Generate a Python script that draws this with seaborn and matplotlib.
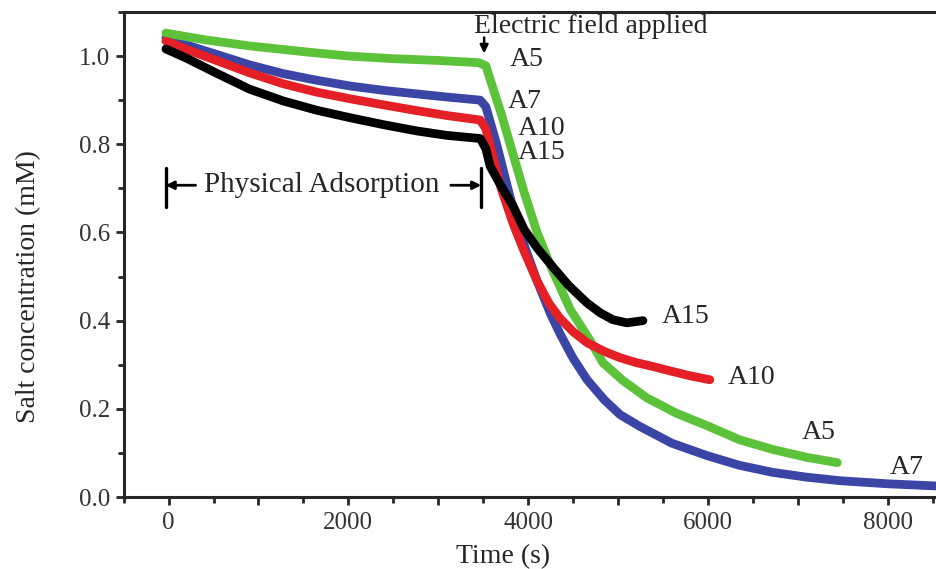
import seaborn as sns
import pandas as pd
import matplotlib.pyplot as plt
from matplotlib.ticker import MultipleLocator, FuncFormatter

# A5 (green)
t_a5 = [-30, 400, 900, 1500, 2000, 2500, 3000, 3450, 3530, 3620, 3700, 3800, 3950, 4100, 4280,
        4470, 4690, 4830, 5050, 5320, 5650, 5990, 6350, 6720, 7100, 7440]
c_a5 = [1.052, 1.037, 1.023, 1.010, 1.000, 0.994, 0.990, 0.985, 0.978, 0.92, 0.87, 0.80, 0.695, 0.60, 0.51,
        0.425, 0.355, 0.305, 0.265, 0.225, 0.19, 0.162, 0.13, 0.108, 0.09, 0.078]

# A7 (blue)
t_a7 = [-30, 200, 544, 900, 1278, 1650, 2022, 2400, 2767, 3100, 3467, 3530, 3650, 3800, 3950, 4100,
        4250, 4356, 4500, 4656, 4850, 5022, 5244, 5600, 5990, 6350, 6720, 7100, 7470, 8000, 8550]
c_a7 = [1.041, 1.025, 1.003, 0.98, 0.96, 0.945, 0.932, 0.922, 0.914, 0.907, 0.900, 0.885, 0.80, 0.68, 0.575, 0.49,
        0.415, 0.37, 0.315, 0.266, 0.22, 0.187, 0.16, 0.122, 0.094, 0.072, 0.056, 0.045, 0.037, 0.03, 0.025]

# A10 (red)
t_a10 = [-30, 200, 544, 900, 1278, 1650, 2022, 2400, 2767, 3100, 3467, 3530, 3611, 3700, 3833, 3950,
         4100, 4230, 4356, 4500, 4656, 4850, 5022, 5200, 5389, 5600, 5800, 6022]
c_a10 = [1.034, 1.015, 0.989, 0.962, 0.937, 0.918, 0.903, 0.889, 0.876, 0.865, 0.855, 0.835, 0.77, 0.70, 0.62, 0.56,
         0.49, 0.44, 0.405, 0.375, 0.35, 0.33, 0.316, 0.305, 0.296, 0.285, 0.275, 0.266]

# A15 (black)
t_a15 = [-30, 200, 544, 900, 1278, 1650, 2022, 2400, 2767, 3100, 3467, 3530, 3578, 3700, 3833, 3956,
         4100, 4278, 4450, 4656, 4800, 4944, 5100, 5278]
c_a15 = [1.016, 0.995, 0.96, 0.925, 0.898, 0.877, 0.86, 0.844, 0.83, 0.82, 0.813, 0.79, 0.75, 0.705, 0.66, 0.607,
         0.565, 0.521, 0.48, 0.44, 0.418, 0.402, 0.395, 0.400]

frames = []
for name, t, c in [('A7', t_a7, c_a7), ('A5', t_a5, c_a5), ('A10', t_a10, c_a10), ('A15', t_a15, c_a15)]:
    frames.append(pd.DataFrame({'time': t, 'conc': c, 'sample': name}))
df = pd.concat(frames, ignore_index=True)

colors = {'A5': '#5cc23a', 'A7': '#3a45a6', 'A10': '#e41f26', 'A15': '#000000'}

sns.set_style('ticks')
plt.rcParams['font.family'] = ['Liberation Serif', 'DejaVu Serif']

fig = plt.figure(figsize=(9.37, 5.69), dpi=100)
ax = fig.add_axes([0.132, 0.1265, 0.868, 0.8525])

sns.lineplot(data=df, x='time', y='conc', hue='sample', hue_order=['A7', 'A5', 'A10', 'A15'],
             palette=colors, sort=False, estimator=None, linewidth=6.3, legend=False, ax=ax,
             solid_capstyle='round', solid_joinstyle='round')

ax.set_xlim(-500, 8550)
ax.set_ylim(0, 1.1)
ax.xaxis.set_major_locator(MultipleLocator(1000))
ax.xaxis.set_minor_locator(MultipleLocator(500))
ax.xaxis.set_major_formatter(FuncFormatter(lambda v, p: f'{int(v)}' if int(v) % 2000 == 0 else ''))
ax.yaxis.set_major_locator(MultipleLocator(0.2))
ax.yaxis.set_minor_locator(MultipleLocator(0.1))
ax.yaxis.set_major_formatter(FuncFormatter(lambda v, p: f'{v:.1f}'))
ax.tick_params(which='major', length=6, width=2, labelsize=18, labelcolor='#333333')
ax.tick_params(which='minor', length=4, width=2)
ax.tick_params(axis='x', which='major', pad=5)
ax.spines['right'].set_visible(False)
for s in ['left', 'bottom', 'top']:
    ax.spines[s].set_linewidth(2.2)

ax.set_xlabel('Time (s)', fontsize=20)
ax.set_ylabel('Salt concentration (mM)', fontsize=20)
ax.xaxis.set_label_coords(0.466, -0.097)
ax.yaxis.set_label_coords(-0.101, 0.433)

# curve labels
lab = dict(fontsize=20, va='center', ha='left')
ax.text(3800, 0.993, 'A5', **lab)
ax.text(3778, 0.898, 'A7', **lab)
ax.text(3889, 0.835, 'A10', **lab)
ax.text(3889, 0.781, 'A15', **lab)
ax.text(5489, 0.409, 'A15', **lab)
ax.text(6222, 0.271, 'A10', **lab)
ax.text(7044, 0.147, 'A5', **lab)
ax.text(8022, 0.068, 'A7', **lab)

# electric field marker
ax.text(3400, 1.068, 'Electric field applied', fontsize=20, va='center', ha='left')
ax.annotate('', xy=(3511, 1.006), xytext=(3511, 1.042),
            arrowprops=dict(arrowstyle='-|>', color='black', lw=1.8, mutation_scale=12, shrinkA=0, shrinkB=0))

# physical adsorption bracket
ax.plot([-33, -33], [0.657, 0.747], color='black', lw=2.4)
ax.plot([3478, 3478], [0.657, 0.747], color='black', lw=2.4)
ax.text(1700, 0.707, 'Physical Adsorption', fontsize=21, va='center', ha='center')
ax.annotate('', xy=(-33, 0.707), xytext=(300, 0.707),
            arrowprops=dict(arrowstyle='-|>', color='black', lw=2, mutation_scale=12, shrinkA=0, shrinkB=0))
ax.annotate('', xy=(3478, 0.707), xytext=(3140, 0.707),
            arrowprops=dict(arrowstyle='-|>', color='black', lw=2, mutation_scale=12, shrinkA=0, shrinkB=0))

fig.savefig('out.png', dpi=100)
